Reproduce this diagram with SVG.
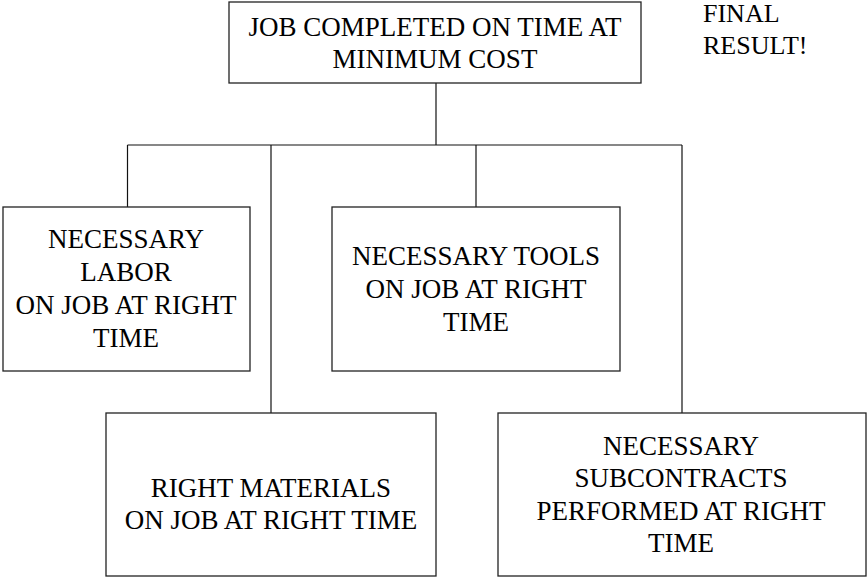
<svg xmlns="http://www.w3.org/2000/svg" width="867" height="579" viewBox="0 0 867 579">
<rect x="0" y="0" width="867" height="579" fill="#fff"/>
<g id="connectors" stroke="#111" stroke-width="1.2">
<line x1="436" y1="83" x2="436" y2="145"/>
<line x1="127.5" y1="145" x2="682" y2="145"/>
<line x1="127.5" y1="145" x2="127.5" y2="207"/>
<line x1="271" y1="145" x2="271" y2="413"/>
<line x1="476" y1="145" x2="476" y2="207"/>
<line x1="682" y1="145" x2="682" y2="413"/>
</g>
<g id="top">
<rect x="229" y="2" width="412" height="81" fill="#fff" stroke="#222" stroke-width="1.3"/>
<text x="435" y="36" style="font-family:'Liberation Serif','Times New Roman',serif;font-size:27px" text-anchor="middle">JOB COMPLETED ON TIME AT</text>
<text x="435" y="68" style="font-family:'Liberation Serif','Times New Roman',serif;font-size:27px" text-anchor="middle">MINIMUM COST</text>
</g>
<g id="labor">
<rect x="3" y="207" width="247" height="164" fill="#fff" stroke="#222" stroke-width="1.3"/>
<text x="126" y="248" style="font-family:'Liberation Serif','Times New Roman',serif;font-size:27px" text-anchor="middle">NECESSARY</text>
<text x="126" y="281" style="font-family:'Liberation Serif','Times New Roman',serif;font-size:27px" text-anchor="middle">LABOR</text>
<text x="126" y="314" style="font-family:'Liberation Serif','Times New Roman',serif;font-size:27px" text-anchor="middle">ON JOB AT RIGHT</text>
<text x="126" y="347" style="font-family:'Liberation Serif','Times New Roman',serif;font-size:27px" text-anchor="middle">TIME</text>
</g>
<g id="tools">
<rect x="332" y="207" width="288" height="164" fill="#fff" stroke="#222" stroke-width="1.3"/>
<text x="476" y="265" style="font-family:'Liberation Serif','Times New Roman',serif;font-size:27px" text-anchor="middle">NECESSARY TOOLS</text>
<text x="476" y="298" style="font-family:'Liberation Serif','Times New Roman',serif;font-size:27px" text-anchor="middle">ON JOB AT RIGHT</text>
<text x="476" y="331" style="font-family:'Liberation Serif','Times New Roman',serif;font-size:27px" text-anchor="middle">TIME</text>
</g>
<g id="materials">
<rect x="106" y="413" width="330" height="163" fill="#fff" stroke="#222" stroke-width="1.3"/>
<text x="271" y="497" style="font-family:'Liberation Serif','Times New Roman',serif;font-size:27px" text-anchor="middle">RIGHT MATERIALS</text>
<text x="271" y="529" style="font-family:'Liberation Serif','Times New Roman',serif;font-size:27px" text-anchor="middle">ON JOB AT RIGHT TIME</text>
</g>
<g id="subcontracts">
<rect x="498" y="413" width="368" height="163" fill="#fff" stroke="#222" stroke-width="1.3"/>
<text x="681" y="455" style="font-family:'Liberation Serif','Times New Roman',serif;font-size:27px" text-anchor="middle">NECESSARY</text>
<text x="681" y="487" style="font-family:'Liberation Serif','Times New Roman',serif;font-size:27px" text-anchor="middle">SUBCONTRACTS</text>
<text x="681" y="520" style="font-family:'Liberation Serif','Times New Roman',serif;font-size:27px" text-anchor="middle">PERFORMED AT RIGHT</text>
<text x="681" y="552" style="font-family:'Liberation Serif','Times New Roman',serif;font-size:27px" text-anchor="middle">TIME</text>
</g>
<g id="final-note">
<text x="703" y="22" style="font-family:'Liberation Serif','Times New Roman',serif;font-size:26px">FINAL</text>
<text x="703" y="54" style="font-family:'Liberation Serif','Times New Roman',serif;font-size:26px">RESULT!</text>
</g>
</svg>
